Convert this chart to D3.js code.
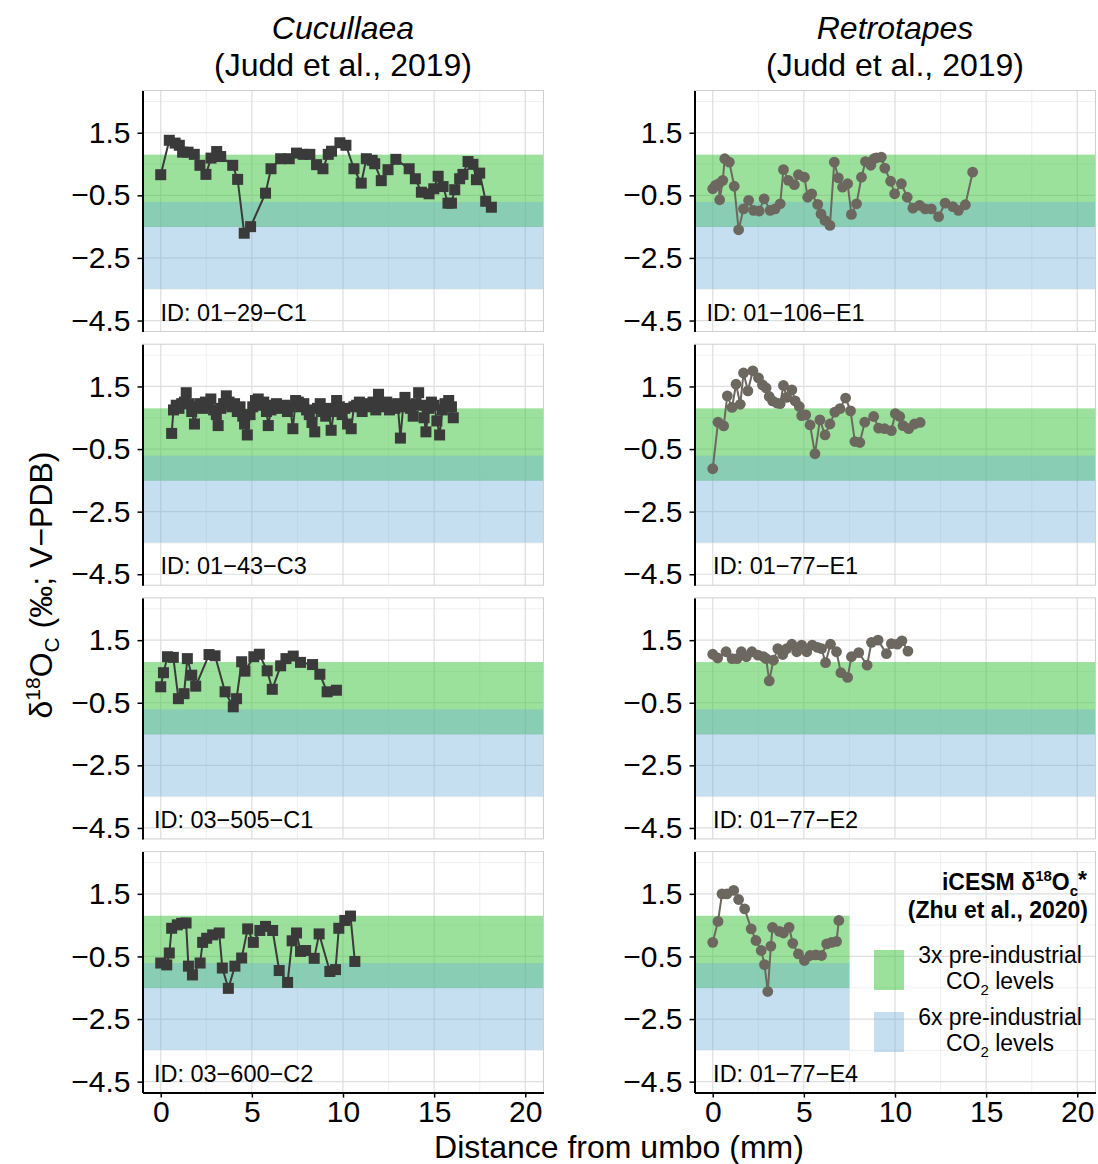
<!DOCTYPE html>
<html>
<head>
<meta charset="utf-8">
<script src="https://cdn.jsdelivr.net/npm/d3@7"></script>
<style>
  body { margin: 0; background: #fff; }
  svg { display: block; font-family: "Liberation Sans", Arial, sans-serif; }
</style>
</head>
<body>
<svg id="chart"></svg>
<script>
// d18O profiles, [distance from umbo (mm), d18O (permil)]
const c01_29_C1 = [[0,0.16],[0.47,1.26],[0.79,1.17],[1.02,1.1],[1.2,0.88],[1.5,0.88],[1.84,0.81],[2.15,0.46],[2.48,0.17],[2.76,0.69],[3.07,0.9],[3.29,0.74],[3.95,0.46],[4.22,0.01],[4.58,-1.71],[4.93,-1.5],[5.75,-0.43],[6.05,0.35],[6.58,0.67],[7.05,0.67],[7.45,0.85],[7.82,0.81],[8.18,0.81],[8.55,0.48],[8.9,0.35],[9.19,0.81],[9.37,0.91],[9.83,1.18],[10.16,1.1],[10.6,0.35],[11.0,-0.11],[11.28,0.67],[11.6,0.62],[11.74,0.51],[12.1,-0.03],[12.47,0.32],[12.9,0.65],[13.63,0.35],[13.97,0.03],[14.3,-0.4],[14.72,-0.45],[14.98,-0.29],[15.22,0.11],[15.49,-0.22],[15.76,-0.75],[15.95,-0.75],[16.13,-0.32],[16.4,0.03],[16.58,0.17],[16.86,0.58],[17.13,0.49],[17.32,0.0],[17.5,0.21],[17.83,-0.69],[18.14,-0.88]];

const c01_43_C3 = [[0.6,0.0],[0.7,0.75],[0.85,0.9],[1.0,0.8],[1.15,0.95],[1.3,1.0],[1.4,1.3],[1.55,0.95],[1.7,0.7],[1.85,0.3],[2.0,0.85],[2.15,0.95],[2.3,0.8],[2.45,1.0],[2.6,0.9],[2.75,1.1],[2.9,0.75],[3.05,0.6],[3.15,0.25],[3.3,0.8],[3.45,0.95],[3.6,1.2],[3.75,1.0],[3.9,0.85],[4.05,0.95],[4.2,0.7],[4.35,0.85],[4.5,0.55],[4.6,0.3],[4.75,-0.05],[4.9,0.6],[5.05,0.85],[5.2,1.05],[5.35,1.1],[5.5,0.9],[5.65,1.0],[5.8,0.7],[5.9,0.25],[6.05,0.75],[6.2,0.9],[6.35,0.95],[6.5,0.8],[6.65,0.85],[6.8,0.9],[6.95,0.7],[7.1,0.85],[7.25,0.15],[7.4,1.05],[7.55,1.0],[7.7,0.85],[7.85,0.95],[8.0,0.75],[8.15,0.6],[8.3,0.35],[8.45,0.05],[8.6,0.8],[8.75,0.95],[8.9,0.7],[9.05,0.55],[9.2,0.8],[9.35,0.1],[9.5,0.7],[9.65,1.05],[9.8,0.85],[9.95,0.6],[10.1,0.8],[10.25,0.3],[10.45,0.15],[10.6,0.85],[10.75,0.9],[10.9,1.0],[11.05,0.7],[11.2,0.95],[11.35,0.85],[11.5,0.9],[11.65,1.0],[11.8,0.75],[11.95,1.25],[12.1,0.95],[12.25,0.85],[12.4,1.0],[12.55,0.75],[12.7,0.9],[12.85,0.8],[13.0,0.95],[13.15,-0.15],[13.3,0.85],[13.4,1.15],[13.55,0.9],[13.7,0.8],[13.85,0.55],[14.0,0.95],[14.15,1.3],[14.3,0.9],[14.45,0.5],[14.55,0.05],[14.7,0.8],[14.85,1.0],[15.0,0.9],[15.15,0.4],[15.3,-0.05],[15.45,0.75],[15.6,0.95],[15.8,1.05],[15.95,0.85],[16.05,0.5]];

const c03_505_C1 = [[0,0.01],[0.15,0.46],[0.37,0.97],[0.69,0.95],[0.97,-0.37],[1.28,-0.21],[1.46,0.91],[1.7,0.38],[1.92,0.03],[2.65,1.04],[2.98,1.0],[3.53,-0.15],[3.98,-0.63],[4.16,-0.37],[4.44,0.81],[4.62,0.51],[5.11,0.97],[5.41,1.05],[5.84,0.52],[6.12,-0.07],[6.58,0.68],[6.87,0.91],[7.27,0.99],[7.67,0.79],[8.33,0.72],[8.73,0.41],[9.13,-0.15],[9.64,-0.1]];

const c03_600_C2 = [[0,-0.71],[0.33,-0.77],[0.47,-0.39],[0.6,0.4],[0.91,0.51],[1.15,0.56],[1.39,0.57],[1.52,-0.81],[1.74,-1.09],[2.16,-0.71],[2.3,-0.05],[2.52,0.08],[2.85,0.19],[3.21,0.25],[3.38,-0.87],[3.71,-1.52],[4.07,-0.81],[4.44,-0.55],[4.77,0.38],[5.08,-0.05],[5.44,0.33],[5.75,0.46],[6.14,0.33],[6.5,-0.95],[6.96,-1.33],[7.21,0.0],[7.45,0.25],[7.67,-0.34],[7.95,-0.31],[8.42,-0.56],[8.69,0.22],[9.28,-0.98],[9.59,-0.92],[9.77,0.4],[10.1,0.65],[10.41,0.79],[10.65,-0.66]];

const r01_106_E1 = [[0,-0.29],[0.15,-0.18],[0.33,-0.13],[0.38,-0.64],[0.55,-0.02],[0.66,0.67],[0.91,0.56],[1.18,-0.21],[1.42,-1.6],[1.69,-0.93],[1.97,-0.66],[2.24,-0.98],[2.55,-1.0],[2.82,-0.61],[3.15,-0.98],[3.42,-0.93],[3.7,-0.77],[3.88,0.32],[4.15,-0.02],[4.48,-0.16],[4.7,0.16],[5.03,0.08],[5.21,-0.56],[5.43,-0.45],[5.76,-0.79],[5.94,-1.09],[6.16,-1.3],[6.43,-1.46],[6.67,0.56],[6.89,0.06],[7.12,-0.24],[7.4,-0.13],[7.61,-1.11],[7.89,-0.77],[8.16,0.08],[8.38,0.58],[8.67,0.46],[8.85,0.67],[8.98,0.7],[9.25,0.72],[9.44,0.37],[9.76,-0.05],[9.98,-0.45],[10.35,-0.13],[10.67,-0.56],[10.98,-0.91],[11.35,-0.82],[11.66,-0.93],[11.99,-0.93],[12.39,-1.18],[12.75,-0.75],[13.17,-0.86],[13.48,-0.98],[13.86,-0.8],[14.26,0.24]];

const r01_77_E1 = [[0,-1.13],[0.29,0.36],[0.6,0.24],[0.8,1.2],[1.06,0.83],[1.28,1.57],[1.51,0.93],[1.69,1.93],[1.93,1.36],[2.2,2.0],[2.51,1.77],[2.73,1.55],[2.93,1.45],[3.1,1.18],[3.28,1.04],[3.52,0.97],[3.7,0.95],[3.88,1.53],[4.06,1.15],[4.34,1.39],[4.52,1.04],[4.75,0.86],[4.88,0.57],[5.1,0.59],[5.34,0.27],[5.61,-0.65],[5.88,0.43],[6.16,-0.05],[6.43,0.3],[6.7,0.68],[6.98,0.79],[7.29,1.13],[7.56,0.72],[7.8,-0.26],[8.07,-0.29],[8.34,0.36],[8.83,0.54],[9.1,0.17],[9.43,0.15],[9.8,0.09],[10.02,0.63],[10.26,0.54],[10.44,0.25],[10.75,0.15],[11.07,0.3],[11.38,0.35]];

const r01_77_E2 = [[0,1.05],[0.27,0.93],[0.73,1.13],[1.06,0.91],[1.33,0.91],[1.57,1.13],[1.84,0.97],[2.15,1.13],[2.48,1.02],[2.79,0.97],[2.93,0.91],[3.1,0.2],[3.33,0.86],[3.57,1.23],[3.84,1.04],[4.06,1.23],[4.34,1.37],[4.61,1.13],[4.88,1.34],[5.16,1.13],[5.46,1.34],[5.75,1.27],[5.97,1.23],[6.19,0.78],[6.46,1.37],[6.79,1.13],[7.03,0.46],[7.4,0.31],[7.61,0.97],[8.01,1.1],[8.47,0.7],[8.71,1.43],[9.07,1.5],[9.53,1.07],[9.8,1.39],[10.13,1.37],[10.38,1.48],[10.71,1.15]];

const r01_77_E4 = [[0,-0.05],[0.29,0.62],[0.51,1.5],[0.78,1.5],[1.15,1.61],[1.42,1.32],[1.75,1.02],[2.11,0.38],[2.37,0.01],[2.66,-0.31],[2.84,-0.76],[3.02,-1.62],[3.19,-0.17],[3.28,0.43],[3.66,0.3],[3.88,0.25],[4.19,0.43],[4.39,-0.08],[4.7,-0.42],[5.03,-0.63],[5.34,-0.47],[5.65,-0.45],[5.97,-0.47],[6.25,-0.1],[6.52,-0.05],[6.79,-0.02],[6.92,0.65]];

// iCESM d18Oc ranges (Zhu et al., 2020)
const band3x = [-1.51, 0.8];
const band6x = [-3.49, -0.71];

const xTicks = [0, 5, 10, 15, 20];
const xMinor = [2.5, 7.5, 12.5, 17.5];
const yTicks = [1.5, -0.5, -2.5, -4.5];
const yMinor = [2.5, 0.5, -1.5, -3.5];

const genera = ["Cucullaea", "Retrotapes"];

const panels = [
  { id: "01−29−C1", data: c01_29_C1, col: 0, row: 0 },
  { id: "01−43−C3", data: c01_43_C3, col: 0, row: 1 },
  { id: "03−505−C1", data: c03_505_C1, col: 0, row: 2 },
  { id: "03−600−C2", data: c03_600_C2, col: 0, row: 3 },
  { id: "01−106−E1", data: r01_106_E1, col: 1, row: 0 },
  { id: "01−77−E1", data: r01_77_E1, col: 1, row: 1 },
  { id: "01−77−E2", data: r01_77_E2, col: 1, row: 2 },
  { id: "01−77−E4", data: r01_77_E4, col: 1, row: 3, bandEnd: 7.5 }
];

const width = 1098;
const height = 1164;
const panelW = 401;
const panelH = 241;
const colX = [142.5, 694.5];
const rowY = [90.5, 344.2, 597.9, 851.6];

const greenFill = "rgb(55,195,55)";
const greenOpacity = 0.5;
const blueFill = "rgb(110,175,218)";
const blueOpacity = 0.4;
const squareColor = "#3a3a3a";
const circleColor = "#6c685f";

const svg = d3.select("#chart").attr("width", width).attr("height", height);

const xScale = d3.scaleLinear().domain([-1, 21]).range([0, panelW]);
const yScale = d3.scaleLinear().domain([-4.85, 2.85]).range([panelH, 0]);

const styleAxis = (a) => {
  a.attr("font-family", null).attr("font-size", null);
  a.select(".domain").attr("stroke", "#000").attr("stroke-width", 2);
  a.selectAll(".tick line").attr("stroke", "#000").attr("stroke-width", 1.5);
  a.selectAll(".tick text").attr("fill", "#000").attr("font-size", 30);
};

const drawPanel = (p) => {
  const g = svg
    .append("g")
    .attr("transform", `translate(${colX[p.col]}, ${rowY[p.row]})`);

  // grid
  const vGrid = (vals, color, w) => {
    g.append("g").selectAll("line").data(vals).enter().append("line")
      .attr("x1", (d) => xScale(d)).attr("x2", (d) => xScale(d))
      .attr("y1", 0).attr("y2", panelH)
      .attr("stroke", color).attr("stroke-width", w);
  };
  const hGrid = (vals, color, w) => {
    g.append("g").selectAll("line").data(vals).enter().append("line")
      .attr("x1", 0).attr("x2", panelW)
      .attr("y1", (d) => yScale(d)).attr("y2", (d) => yScale(d))
      .attr("stroke", color).attr("stroke-width", w);
  };
  vGrid(xMinor, "#ececec", 0.8);
  hGrid(yMinor, "#ececec", 0.8);
  vGrid(xTicks, "#dedede", 1.2);
  hGrid(yTicks, "#dedede", 1.2);

  // model bands
  const bandEnd = p.bandEnd !== undefined ? p.bandEnd : 21;
  [[band3x, greenFill, greenOpacity], [band6x, blueFill, blueOpacity]].forEach(([b, fill, op]) => {
    g.append("rect")
      .attr("x", xScale(-1))
      .attr("width", xScale(bandEnd) - xScale(-1))
      .attr("y", yScale(b[1]))
      .attr("height", yScale(b[0]) - yScale(b[1]))
      .attr("fill", fill)
      .attr("fill-opacity", op);
  });

  g.append("rect")
    .attr("width", panelW).attr("height", panelH)
    .attr("fill", "none").attr("stroke", "#cfcfcf").attr("stroke-width", 1);

  // profile
  const color = p.col === 0 ? squareColor : circleColor;
  const line = d3.line().x((d) => xScale(d[0])).y((d) => yScale(d[1]));
  g.append("path")
    .datum(p.data)
    .attr("d", line)
    .attr("fill", "none")
    .attr("stroke", color)
    .attr("stroke-width", 2);

  if (p.col === 0) {
    g.selectAll(".pt").data(p.data).enter().append("rect")
      .attr("x", (d) => xScale(d[0]) - 5.5)
      .attr("y", (d) => yScale(d[1]) - 5.5)
      .attr("width", 11).attr("height", 11)
      .attr("fill", color);
  } else {
    g.selectAll(".pt").data(p.data).enter().append("circle")
      .attr("cx", (d) => xScale(d[0]))
      .attr("cy", (d) => yScale(d[1]))
      .attr("r", 5.4)
      .attr("fill", color);
  }

  g.append("text")
    .attr("x", xScale(4))
    .attr("y", yScale(-4.25))
    .attr("text-anchor", "middle")
    .attr("dominant-baseline", "central")
    .attr("font-size", 23.5)
    .attr("fill", "#000")
    .text(`ID: ${p.id}`);

  // y axis
  const yAxis = d3.axisLeft(yScale)
    .tickValues(yTicks).tickSize(5).tickSizeOuter(0).tickPadding(7)
    .tickFormat(d3.format(".1f"));
  styleAxis(g.append("g").call(yAxis));

  if (p.row === 3) {
    const xAxis = d3.axisBottom(xScale)
      .tickValues(xTicks).tickSize(5).tickSizeOuter(0).tickPadding(3)
      .tickFormat(d3.format("d"));
    styleAxis(g.append("g").attr("transform", `translate(0, ${panelH})`).call(xAxis));
  }
};

panels.forEach(drawPanel);

// column titles
genera.forEach((name, i) => {
  const cx = colX[i] + panelW / 2;
  svg.append("text").attr("x", cx).attr("y", 38.5)
    .attr("text-anchor", "middle").attr("font-size", 32).attr("font-style", "italic")
    .text(name);
  svg.append("text").attr("x", cx).attr("y", 75.5)
    .attr("text-anchor", "middle").attr("font-size", 32)
    .text("(Judd et al., 2019)");
});

// axis titles
svg.append("text")
  .attr("x", (colX[0] + colX[1] + panelW) / 2)
  .attr("y", 1158)
  .attr("text-anchor", "middle")
  .attr("font-size", 32)
  .text("Distance from umbo (mm)");

const yl = svg.append("text")
  .attr("transform", "translate(52, 585) rotate(-90)")
  .attr("text-anchor", "middle")
  .attr("font-size", 32);
yl.append("tspan").text("δ");
yl.append("tspan").attr("font-size", 21).attr("dy", -12).text("18");
yl.append("tspan").attr("dy", 12).text("O");
yl.append("tspan").attr("font-size", 21).attr("dy", 7).text("C");
yl.append("tspan").attr("dy", -7).text(" (‰; V−PDB)");

// legend
const lg = svg.append("g");
const t1 = lg.append("text").attr("x", 1087).attr("y", 890)
  .attr("text-anchor", "end").attr("font-size", 23).attr("font-weight", "bold");
t1.append("tspan").text("iCESM δ");
t1.append("tspan").attr("font-size", 15).attr("dy", -9).text("18");
t1.append("tspan").attr("dy", 9).text("O");
t1.append("tspan").attr("font-size", 15).attr("dy", 6).text("c");
t1.append("tspan").attr("dy", -8).text("*");
lg.append("text").attr("x", 1088).attr("y", 918)
  .attr("text-anchor", "end").attr("font-size", 23).attr("font-weight", "bold")
  .text("(Zhu et al., 2020)");

const legendItems = [
  { label: "3x pre-industrial", fill: greenFill, op: greenOpacity, top: 950 },
  { label: "6x pre-industrial", fill: blueFill, op: blueOpacity, top: 1012 }
];
legendItems.forEach((it) => {
  lg.append("rect").attr("x", 874).attr("y", it.top).attr("width", 30).attr("height", 40)
    .attr("fill", it.fill).attr("fill-opacity", it.op);
  lg.append("text").attr("x", 1000).attr("y", it.top + 13)
    .attr("text-anchor", "middle").attr("font-size", 23).text(it.label);
  const t = lg.append("text").attr("x", 1000).attr("y", it.top + 39)
    .attr("text-anchor", "middle").attr("font-size", 23);
  t.append("tspan").text("CO");
  t.append("tspan").attr("font-size", 15).attr("dy", 6).text("2");
  t.append("tspan").attr("dy", -6).text(" levels");
});
</script>
</body>
</html>
